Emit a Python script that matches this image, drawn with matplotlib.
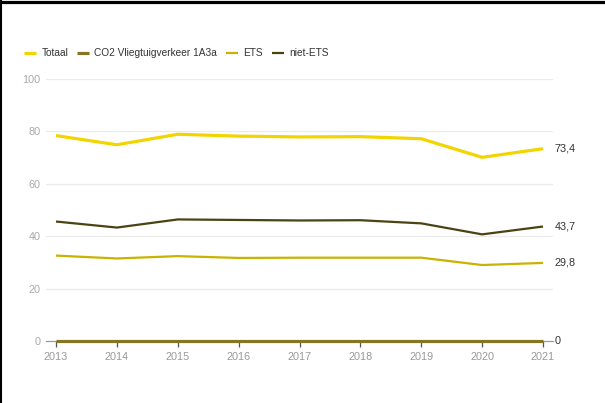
import matplotlib
matplotlib.use("Agg")
import matplotlib.pyplot as plt
from matplotlib.lines import Line2D

plt.rcParams['font.family'] = ['Liberation Sans', 'DejaVu Sans']

years = [2013, 2014, 2015, 2016, 2017, 2018, 2019, 2020, 2021]
totaal = [78.4, 74.9, 78.9, 78.2, 77.9, 78.0, 77.2, 70.1, 73.4]
co2_vlieg = [0, 0, 0, 0, 0, 0, 0, 0, 0]
ets = [32.6, 31.5, 32.4, 31.7, 31.8, 31.8, 31.8, 29.0, 29.8]
niet_ets = [45.6, 43.3, 46.4, 46.2, 46.0, 46.1, 44.9, 40.7, 43.7]

series_names = ['Totaal', 'CO2 Vliegtuigverkeer 1A3a', 'ETS', 'niet-ETS']
series_values = [totaal, co2_vlieg, ets, niet_ets]
end_labels = ['73,4', '0', '29,8', '43,7']
colors = ['#f2d500', '#857621', '#c8b300', '#4a4313']
widths = [2.3, 2.3, 1.6, 1.6]
yticks = [0, 20, 40, 60, 80, 100]

W, H = 605, 403
fig = plt.figure(figsize=(W / 100, H / 100), dpi=100)
fig.patch.set_facecolor('white')

ax = fig.add_axes([46 / W, 1 - 341 / H, (553 - 46) / W, (341 - 79) / H])
ax.set_xlim(2013 - 10 / 60.875, 2021 + 10 / 60.875)
ax.set_ylim(0, 100)

for y in yticks[1:]:
    ax.axhline(y, color='#ebebeb', lw=0.9, zorder=0)

for name, vals, col, lw in zip(series_names, series_values, colors, widths):
    ax.plot(years, vals, color=col, lw=lw, solid_capstyle='butt', zorder=3, clip_on=False)

for vals, lab in zip(series_values, end_labels):
    ax.annotate(lab, xy=(1, vals[-1]), xycoords=('axes fraction', 'data'),
                xytext=(1, 0), textcoords='offset points', va='center', ha='left',
                fontsize=7.8, color='#333333', annotation_clip=False)

for s in ['top', 'right', 'left']:
    ax.spines[s].set_visible(False)
ax.spines['bottom'].set_color('#9a9a9a')
ax.spines['bottom'].set_linewidth(0.9)
ax.spines['bottom'].set_zorder(2)

ax.set_xticks(years)
ax.set_xticklabels([str(y) for y in years])
ax.set_yticks(yticks)
ax.tick_params(axis='x', length=4, width=0.9, color='#555555', labelsize=7.8,
               labelcolor='#999999', pad=4)
ax.tick_params(axis='y', length=0, labelsize=7.8, labelcolor='#aaaaaa', pad=4)

handles = [Line2D([0], [0], color=c, lw=2.3 if i < 2 else 1.6, solid_capstyle='butt')
           for i, c in enumerate(colors)]
fig.legend(handles, series_names, loc='center left', bbox_to_anchor=(24 / W, 1 - 53.5 / H),
           ncol=4, frameon=False, fontsize=7.3, handlelength=1.18, handletextpad=0.54,
           columnspacing=0.85, labelcolor='#333333', borderaxespad=0, borderpad=0)

# black frame lines at the top and left edges
fig.add_artist(Line2D([0, 603 / W], [1 - 1.5 / H, 1 - 1.5 / H], transform=fig.transFigure,
                      color='black', lw=2.3))
fig.add_artist(Line2D([1 / W, 1 / W], [0, 1], transform=fig.transFigure,
                      color='black', lw=1.5))

fig.savefig('out.png', dpi=100, facecolor='white')
